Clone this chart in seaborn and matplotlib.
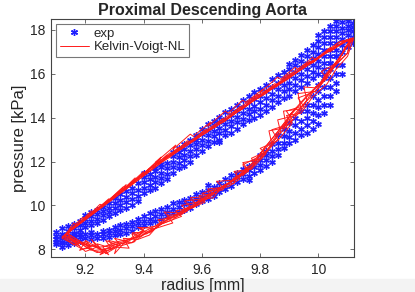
import numpy as np
import pandas as pd
import seaborn as sns
import matplotlib.pyplot as plt
from matplotlib.patches import Rectangle
from matplotlib.lines import Line2D

# experimental data: radius columns [mm] and pressures [kPa] read in each column
exp_radius = [9.10, 9.12, 9.14, 9.16, 9.18, 9.20, 9.22, 9.24, 9.26, 9.28,
              9.30, 9.32, 9.34, 9.36, 9.38, 9.40, 9.42, 9.44, 9.46, 9.48,
              9.50, 9.52, 9.54, 9.56, 9.58, 9.60, 9.62, 9.64, 9.66, 9.68,
              9.70, 9.72, 9.74, 9.76, 9.78, 9.80, 9.82, 9.84, 9.86, 9.88,
              9.90, 9.92, 9.94, 9.96, 9.98, 10.00, 10.02, 10.04, 10.06, 10.08,
              10.10, 10.12]

exp_upper = [
    [8.25, 8.45, 8.6, 8.8], [8.3, 8.5, 8.7, 8.95], [8.4, 8.6, 8.85, 9.05],
    [8.55, 8.75, 8.95, 9.15], [8.7, 8.9, 9.1, 9.3], [9.0, 9.2, 9.4, 9.55],
    [9.1, 9.3, 9.5, 9.7], [9.2, 9.4, 9.6, 9.8], [9.35, 9.55, 9.75, 9.95],
    [9.5, 9.7, 9.9, 10.1], [9.65, 9.9, 10.1, 10.35], [9.8, 10.0, 10.25, 10.5],
    [9.9, 10.15, 10.4, 10.65], [10.0, 10.3, 10.55, 10.8], [10.2, 10.45, 10.7, 11.0],
    [10.55, 10.8, 11.05, 11.3, 11.5], [10.7, 10.95, 11.2, 11.45],
    [10.8, 11.05, 11.3, 11.55, 11.7], [11.0, 11.25, 11.5, 11.75, 11.9],
    [11.2, 11.45, 11.7, 11.95], [11.5, 11.75, 12.0, 12.25, 12.45],
    [11.7, 11.95, 12.2, 12.45, 12.6], [11.8, 12.05, 12.3, 12.55, 12.8],
    [12.0, 12.25, 12.5, 12.75, 13.0], [12.3, 12.55, 12.8, 13.0, 13.2],
    [12.5, 12.75, 13.0, 13.25, 13.5], [12.7, 12.95, 13.2, 13.45, 13.7],
    [12.9, 13.15, 13.4, 13.65, 13.85], [13.0, 13.3, 13.55, 13.8, 14.05],
    [13.2, 13.45, 13.7, 13.95, 14.25], [13.3, 13.6, 13.85, 14.1, 14.4],
    [13.5, 13.8, 14.05, 14.3, 14.6], [13.7, 13.95, 14.2, 14.5, 14.8],
    [13.9, 14.15, 14.4, 14.7, 15.0], [14.0, 14.3, 14.55, 14.85, 15.15],
    [14.1, 14.4, 14.7, 15.0, 15.3], [14.3, 14.6, 14.9, 15.2, 15.5],
    [14.5, 14.8, 15.1, 15.4, 15.75], [14.7, 15.0, 15.3, 15.6, 15.95],
    [14.9, 15.2, 15.5, 15.8, 16.1], [15.0, 15.3, 15.6, 15.9, 16.2, 16.45],
    [15.2, 15.5, 15.8, 16.1, 16.4, 16.65], [15.4, 15.7, 16.0, 16.3, 16.6, 16.85],
    [15.6, 15.9, 16.2, 16.5, 16.8, 17.1], [15.8, 16.1, 16.4, 16.7, 17.0, 17.3],
    [16.0, 16.3, 16.6, 16.9, 17.2, 17.5, 17.75],
    [16.2, 16.5, 16.8, 17.1, 17.4, 17.7, 17.95],
    [16.5, 16.8, 17.1, 17.4, 17.7, 17.95, 18.2],
    [16.8, 17.1, 17.4, 17.7, 17.95, 18.2, 18.4],
    [17.0, 17.3, 17.6, 17.85, 18.1, 18.35],
    [17.2, 17.5, 17.75, 18.0, 18.2, 18.4],
    [17.4, 17.7, 17.95, 18.15, 18.3],
]

exp_lower = [
    [8.35], [8.1, 8.35, 8.55], [8.2, 8.4, 8.6], [8.3, 8.5, 8.7], [8.4, 8.55, 8.7],
    [8.5, 8.7], [8.45, 8.65, 8.8], [8.5, 8.7], [8.5, 8.7, 8.85], [8.55, 8.75, 8.9],
    [8.65, 8.85, 9.0], [8.7, 8.9, 9.1], [8.75, 8.95, 9.15], [8.85, 9.05, 9.25],
    [9.0, 9.2, 9.4], [9.1, 9.3, 9.5], [9.2, 9.4, 9.65], [9.3, 9.5, 9.75],
    [9.4, 9.6, 9.85], [9.5, 9.7, 9.95], [9.65, 9.85, 10.1], [9.7, 9.95, 10.15],
    [9.8, 10.05, 10.25], [9.9, 10.1, 10.35], [10.05, 10.3, 10.5], [10.2, 10.4, 10.6],
    [10.3, 10.5, 10.7, 10.95], [10.45, 10.65, 10.85], [10.6, 10.8, 11.0, 12.9],
    [10.75, 10.95, 11.2], [10.9, 11.15, 11.4], [11.05, 11.3, 11.5],
    [11.2, 11.45, 11.65], [11.15, 11.35, 11.6, 11.8], [11.5, 11.75, 12.0],
    [11.6, 11.85, 12.05, 12.3], [11.8, 12.05, 12.3, 12.5], [12.0, 12.25, 12.5, 12.8],
    [12.3, 12.55, 12.85, 13.2], [12.6, 12.85, 13.15, 13.5], [12.85, 13.1, 13.4, 13.75],
    [13.0, 13.3, 13.65, 14.0], [13.2, 13.5, 13.85, 14.3], [13.3, 13.65, 14.0, 14.3, 14.6],
    [13.5, 13.85, 14.2, 14.6, 15.0], [13.7, 14.1, 14.5, 14.8, 15.2, 15.5],
    [14.2, 14.6, 15.0, 15.4, 15.8, 16.0], [14.6, 15.0, 15.4, 15.8, 16.2, 16.5],
    [15.2, 15.6, 16.0, 16.4, 16.8], [16.0, 16.4], [], [],
]

# model (Kelvin-Voigt-NL) cycles, lower branch then upper branch
cycle_a_r = [9.13, 9.16, 9.19, 9.22, 9.25, 9.28, 9.31, 9.34, 9.37, 9.40, 9.43, 9.46, 9.49, 9.52, 9.55, 9.58, 9.61,
             9.64, 9.67, 9.70, 9.73, 9.76, 9.79, 9.82, 9.85, 9.88, 9.91, 9.94, 9.97, 10.00, 10.03, 10.06, 10.09, 10.11,
             10.08, 10.05, 10.02, 9.99, 9.96, 9.93, 9.90, 9.87, 9.84, 9.81, 9.78, 9.75, 9.72, 9.69, 9.66, 9.63, 9.60,
             9.57, 9.54, 9.51, 9.48, 9.45, 9.42, 9.39, 9.36, 9.33, 9.30, 9.27, 9.24, 9.21, 9.18, 9.15, 9.13]
cycle_a_p = [8.6, 8.4, 8.25, 8.15, 8.1, 8.15, 8.25, 8.4, 8.55, 8.8, 9.0, 9.2, 9.4, 9.65, 9.9, 10.1, 10.35,
             10.6, 10.85, 11.1, 11.4, 11.75, 12.2, 12.7, 13.2, 13.7, 14.2, 14.65, 15.1, 15.5, 16.0, 16.5, 17.1, 17.6,
             17.4, 17.15, 16.9, 16.6, 16.35, 16.1, 15.8, 15.55, 15.3, 15.05, 14.8, 14.5, 14.25, 13.95, 13.7, 13.45, 13.2,
             12.95, 12.7, 12.45, 12.15, 11.85, 11.55, 11.25, 10.95, 10.65, 10.35, 10.05, 9.75, 9.45, 9.15, 8.85, 8.6]

cycle_b_r = [9.12, 9.15, 9.19, 9.21, 9.26, 9.24, 9.29, 9.33, 9.36, 9.41, 9.39, 9.44, 9.48, 9.51, 9.56, 9.54, 9.60,
             9.63, 9.68, 9.71, 9.72, 9.77, 9.80, 9.81, 9.86, 9.87, 9.92, 9.90, 9.96, 10.01, 10.02, 10.07, 10.08, 10.12,
             10.09, 10.04, 10.03, 9.98, 9.97, 9.92, 9.91, 9.86, 9.85, 9.80, 9.79, 9.74, 9.73, 9.68, 9.67, 9.62, 9.61,
             9.56, 9.55, 9.50, 9.49, 9.44, 9.45, 9.38, 9.37, 9.32, 9.33, 9.26, 9.25, 9.20, 9.19, 9.14, 9.12]
cycle_b_p = [8.5, 8.3, 8.0, 8.05, 7.8, 8.25, 8.05, 8.3, 8.3, 8.75, 8.95, 9.05, 9.45, 9.55, 9.95, 10.2, 10.3,
             10.5, 10.95, 11.0, 11.5, 11.7, 12.3, 12.55, 13.35, 13.55, 14.4, 14.1, 15.0, 15.6, 15.9, 16.7, 16.9, 17.65,
             17.5, 17.0, 17.05, 16.5, 16.55, 16.0, 16.05, 15.5, 15.55, 15.0, 15.05, 14.45, 14.5, 13.9, 13.95, 13.4, 13.45,
             12.9, 12.95, 12.35, 12.4, 11.85, 12.05, 11.2, 11.25, 10.6, 10.85, 10.0, 10.05, 9.4, 9.45, 8.8, 8.55]

cycle_c_r = [9.14, 9.17, 9.20, 9.23, 9.27, 9.25, 9.30, 9.35, 9.33, 9.38, 9.42, 9.45, 9.47, 9.53, 9.51, 9.57, 9.62,
             9.60, 9.66, 9.70, 9.75, 9.74, 9.79, 9.84, 9.83, 9.89, 9.88, 9.94, 9.93, 9.99, 10.04, 10.05, 10.10, 10.11,
             10.07, 10.05, 10.00, 9.99, 9.95, 9.94, 9.89, 9.88, 9.83, 9.82, 9.77, 9.76, 9.71, 9.70, 9.65, 9.64, 9.59,
             9.58, 9.53, 9.52, 9.47, 9.48, 9.41, 9.42, 9.35, 9.36, 9.29, 9.30, 9.23, 9.22, 9.17, 9.16, 9.13]
cycle_c_p = [8.7, 8.45, 8.2, 7.95, 8.0, 7.75, 8.1, 8.05, 8.5, 8.45, 8.65, 9.1, 9.2, 9.5, 9.75, 9.9, 10.45,
             10.55, 10.8, 11.05, 11.65, 11.35, 12.0, 12.8, 13.4, 13.55, 14.3, 14.4, 15.1, 15.2, 16.1, 16.3, 16.95, 17.5,
             17.45, 17.2, 16.75, 16.65, 16.3, 16.2, 15.75, 15.65, 15.25, 15.1, 14.75, 14.6, 14.2, 14.05, 13.65, 13.55, 13.15,
             13.0, 12.6, 12.5, 12.1, 12.3, 11.45, 11.7, 10.85, 11.05, 10.25, 10.45, 9.7, 9.75, 9.1, 9.2, 8.65]

cycle_d_r = [9.13, 9.18, 9.16, 9.21, 9.24, 9.29, 9.27, 9.32, 9.37, 9.36, 9.41, 9.44, 9.50, 9.48, 9.53, 9.56, 9.61,
             9.59, 9.65, 9.69, 9.72, 9.78, 9.77, 9.82, 9.85, 9.91, 9.89, 9.95, 9.98, 10.03, 10.01, 10.07, 10.09, 10.12,
             10.10, 10.06, 10.01, 10.02, 9.96, 9.95, 9.90, 9.89, 9.84, 9.83, 9.78, 9.77, 9.72, 9.71, 9.66, 9.65, 9.60,
             9.59, 9.54, 9.53, 9.48, 9.46, 9.43, 9.40, 9.39, 9.34, 9.31, 9.28, 9.24, 9.21, 9.17, 9.15, 9.14]
cycle_d_p = [8.55, 8.15, 8.45, 8.05, 7.85, 8.0, 8.4, 8.15, 8.35, 8.7, 8.7, 8.95, 9.2, 9.55, 9.6, 9.85, 10.15,
             10.45, 10.55, 11.0, 11.2, 11.9, 12.15, 12.45, 13.0, 13.9, 14.3, 14.55, 15.25, 15.8, 16.1, 16.55, 17.2, 17.55,
             17.55, 17.25, 16.8, 16.95, 16.4, 16.3, 15.9, 15.8, 15.4, 15.2, 14.9, 14.7, 14.35, 14.15, 13.8, 13.6, 13.3,
             13.1, 12.8, 12.6, 12.25, 11.95, 11.8, 11.35, 11.4, 10.75, 10.55, 10.15, 9.85, 9.5, 9.05, 8.95, 8.7]

cycle_e_r = [9.15, 9.14, 9.19, 9.22, 9.20, 9.26, 9.31, 9.30, 9.34, 9.39, 9.43, 9.42, 9.47, 9.52, 9.55, 9.58, 9.63,
             9.62, 9.67, 9.71, 9.76, 9.74, 9.80, 9.83, 9.87, 9.86, 9.92, 9.96, 9.95, 10.00, 10.04, 10.06, 10.10, 10.11,
             10.08, 10.04, 10.03, 9.97, 9.98, 9.93, 9.92, 9.87, 9.86, 9.81, 9.80, 9.75, 9.74, 9.69, 9.68, 9.63, 9.62,
             9.57, 9.56, 9.51, 9.52, 9.45, 9.46, 9.39, 9.40, 9.33, 9.34, 9.27, 9.28, 9.22, 9.18, 9.16, 9.12]
cycle_e_p = [8.45, 8.7, 8.3, 8.1, 8.4, 7.95, 8.25, 7.8, 8.4, 8.6, 8.95, 8.75, 9.25, 9.6, 9.8, 10.0, 10.4,
             10.65, 10.7, 11.25, 11.55, 11.85, 12.25, 12.6, 13.35, 13.9, 14.1, 14.8, 15.4, 15.35, 16.15, 16.4, 16.95, 17.6,
             17.35, 17.1, 17.0, 16.45, 16.6, 16.1, 16.0, 15.6, 15.45, 15.1, 14.95, 14.55, 14.4, 14.0, 13.85, 13.5, 13.35,
             13.0, 12.85, 12.4, 12.65, 11.9, 12.1, 11.3, 11.55, 10.7, 10.95, 10.1, 10.3, 9.6, 9.2, 9.0, 8.5]

cycle_f_r = [9.12, 9.16, 9.20, 9.18, 9.23, 9.28, 9.26, 9.31, 9.35, 9.40, 9.38, 9.43, 9.46, 9.50, 9.54, 9.57, 9.59,
             9.64, 9.66, 9.68, 9.73, 9.75, 9.78, 9.81, 9.84, 9.90, 9.88, 9.93, 9.97, 9.99, 10.02, 10.05, 10.08, 10.11,
             10.09, 10.07, 10.02, 10.00, 9.97, 9.94, 9.91, 9.88, 9.85, 9.82, 9.79, 9.76, 9.73, 9.70, 9.67, 9.64, 9.61,
             9.58, 9.55, 9.52, 9.49, 9.46, 9.43, 9.40, 9.37, 9.34, 9.31, 9.28, 9.25, 9.22, 9.19, 9.16, 9.12]
cycle_f_p = [8.6, 8.2, 8.35, 7.95, 8.2, 7.75, 8.1, 8.35, 8.45, 8.9, 8.55, 8.85, 9.15, 9.35, 9.85, 9.95, 10.25,
             10.35, 10.75, 10.95, 11.3, 11.7, 11.95, 12.5, 12.9, 14.0, 13.55, 14.35, 14.9, 15.4, 15.75, 16.35, 16.85, 17.55,
             17.45, 17.3, 16.9, 16.7, 16.5, 16.2, 15.95, 15.7, 15.4, 15.2, 14.9, 14.65, 14.35, 14.1, 13.8, 13.55, 13.3,
             13.05, 12.75, 12.5, 12.2, 11.95, 11.65, 11.35, 11.05, 10.75, 10.45, 10.15, 9.85, 9.55, 9.25, 8.95, 8.55]

cycle_g_r = [9.13, 9.17, 9.15, 9.20, 9.24, 9.22, 9.27, 9.32, 9.30, 9.36, 9.40, 9.38, 9.44, 9.49, 9.47, 9.53, 9.58,
             9.56, 9.62, 9.67, 9.65, 9.71, 9.76, 9.74, 9.80, 9.86, 9.84, 9.90, 9.95, 9.93, 9.99, 10.04, 10.08, 10.11,
             10.10, 10.05, 10.04, 9.99, 9.98, 9.93, 9.92, 9.87, 9.86, 9.80, 9.81, 9.75, 9.74, 9.69, 9.68, 9.62, 9.63,
             9.57, 9.56, 9.50, 9.51, 9.44, 9.46, 9.40, 9.36, 9.37, 9.31, 9.32, 9.26, 9.21, 9.22, 9.16, 9.13]
cycle_g_p = [8.65, 8.25, 8.5, 7.9, 8.1, 8.45, 7.8, 8.2, 8.5, 8.3, 8.85, 9.0, 8.95, 9.45, 9.7, 9.65, 10.05,
             10.35, 10.4, 10.85, 11.1, 11.15, 11.6, 11.95, 12.1, 13.0, 13.45, 13.7, 14.5, 14.9, 15.2, 16.0, 16.9, 17.6,
             17.55, 17.1, 17.2, 16.65, 16.75, 16.2, 16.3, 15.75, 15.85, 15.15, 15.3, 14.7, 14.8, 14.2, 14.3, 13.6, 13.8,
             13.15, 13.25, 12.55, 12.75, 11.95, 12.2, 11.45, 11.0, 11.2, 10.5, 10.7, 9.95, 9.5, 9.65, 9.0, 8.65]

cycle_h_r = [9.14, 9.18, 9.22, 9.20, 9.25, 9.30, 9.28, 9.33, 9.38, 9.36, 9.42, 9.46, 9.45, 9.51, 9.55, 9.53, 9.60,
             9.64, 9.62, 9.69, 9.73, 9.71, 9.77, 9.82, 9.80, 9.86, 9.91, 9.89, 9.94, 9.98, 10.03, 10.06, 10.10, 10.12,
             10.08, 10.06, 10.01, 9.98, 9.95, 9.91, 9.89, 9.85, 9.82, 9.79, 9.76, 9.73, 9.70, 9.67, 9.64, 9.61, 9.58,
             9.55, 9.52, 9.49, 9.46, 9.43, 9.40, 9.37, 9.34, 9.31, 9.28, 9.25, 9.22, 9.19, 9.17, 9.15, 9.14]
cycle_h_p = [8.6, 8.3, 7.95, 8.3, 8.0, 8.05, 8.4, 8.25, 8.6, 8.75, 8.8, 9.15, 9.35, 9.45, 9.75, 10.0, 10.2,
             10.5, 10.75, 10.85, 11.2, 11.55, 11.65, 12.35, 12.6, 12.95, 13.75, 14.1, 14.2, 14.95, 15.55, 16.2, 16.8, 17.6,
             17.5, 17.35, 16.85, 16.6, 16.4, 16.05, 15.9, 15.45, 15.25, 15.0, 14.75, 14.45, 14.2, 13.9, 13.65, 13.4, 13.1,
             12.85, 12.6, 12.3, 12.0, 11.75, 11.45, 11.15, 10.85, 10.55, 10.25, 9.95, 9.65, 9.35, 9.05, 8.9, 8.65]

# build tables
exp_rows = []
for r, ups, lows in zip(exp_radius, exp_upper, exp_lower):
    for p in ups + lows:
        exp_rows.append((r, p))
exp_df = pd.DataFrame(exp_rows, columns=['radius', 'pressure'])

cycles = {'a': (cycle_a_r, cycle_a_p), 'b': (cycle_b_r, cycle_b_p), 'c': (cycle_c_r, cycle_c_p),
          'd': (cycle_d_r, cycle_d_p), 'e': (cycle_e_r, cycle_e_p), 'f': (cycle_f_r, cycle_f_p),
          'g': (cycle_g_r, cycle_g_p), 'h': (cycle_h_r, cycle_h_p)}
model_df = pd.concat([pd.DataFrame({'radius': r, 'pressure': p, 'cycle': k})
                      for k, (r, p) in cycles.items()], ignore_index=True)

sns.set_style('white')
plt.rcParams['font.family'] = ['Liberation Sans', 'DejaVu Sans']

figure = plt.figure(figsize=(4.15, 2.92), dpi=100)
# light screenshot strip at the bottom
figure.patches.append(Rectangle((0, 0), 1, 0.045, transform=figure.transFigure,
                                color='#f3f3f3', zorder=-1))
axis = figure.add_axes([0.123, 0.12, 0.730, 0.815])

blue = '#1f1fff'
red = '#ff1a1a'
sns.scatterplot(data=exp_df, x='radius', y='pressure', ax=axis, marker=(6, 2, 0),
                color=blue, s=16, linewidth=1.0, legend=False, zorder=2)
sns.lineplot(data=model_df, x='radius', y='pressure', units='cycle', estimator=None, sort=False,
             ax=axis, color=red, lw=0.7, legend=False, zorder=3)

axis.set_xlim(9.082, 10.122)
axis.set_ylim(7.65, 18.5)
axis.set_xticks([9.2, 9.4, 9.6, 9.8, 10])
axis.set_xticklabels(['9.2', '9.4', '9.6', '9.8', '10'])
axis.set_yticks([8, 10, 12, 14, 16, 18])
axis.tick_params(direction='in', length=3, width=0.6, color='#555555', labelsize=10,
                 top=True, right=True, bottom=True, left=True, pad=4)
for side in axis.spines.values():
    side.set_color('#444444')
    side.set_linewidth(0.8)

axis.set_xlabel('radius [mm]', fontsize=11.5, labelpad=1)
axis.set_ylabel('pressure [kPa]', fontsize=12, labelpad=2)
axis.set_title('Proximal Descending Aorta', fontsize=11.5, fontweight='bold', pad=3)

handles = [Line2D([], [], ls='none', marker=(6, 2, 0), color=blue, markersize=5, mew=1.0),
           Line2D([], [], color=red, lw=0.7)]
legend = axis.legend(handles, ['exp', 'Kelvin-Voigt-NL'], loc='upper left', fontsize=9.5,
                     frameon=True, fancybox=False, borderpad=0.25, handlelength=2.2,
                     handletextpad=0.4, labelspacing=0.1, borderaxespad=0.4)
legend.get_frame().set_edgecolor('#555555')
legend.get_frame().set_linewidth(0.8)

figure.savefig('out.png', dpi=100)
